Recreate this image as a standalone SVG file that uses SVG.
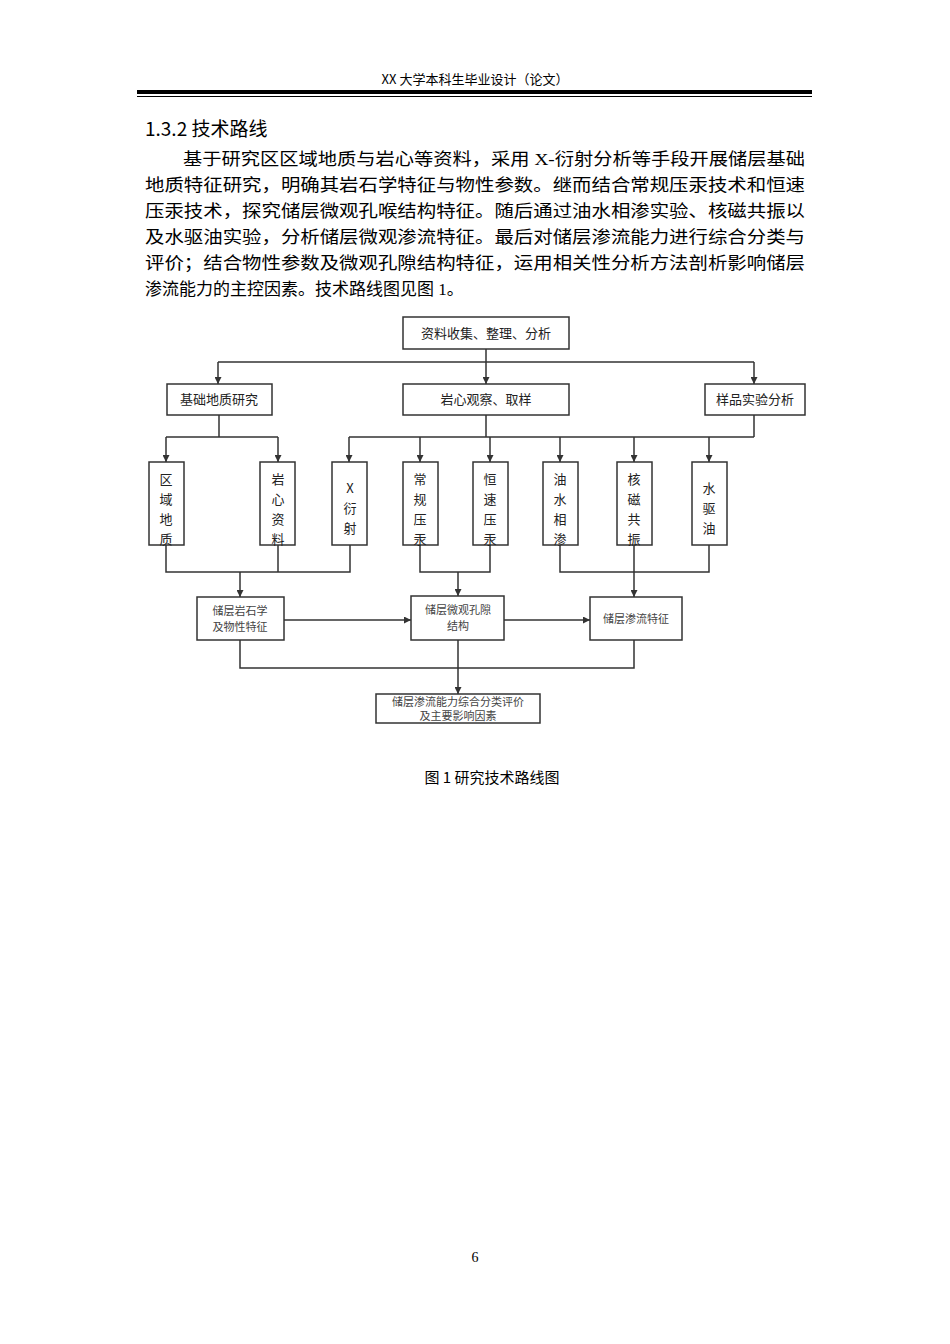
<svg xmlns="http://www.w3.org/2000/svg" width="950" height="1344" viewBox="0 0 950 1344">
<defs>
<marker id="ah" viewBox="0 0 10 10" refX="10" refY="5" markerWidth="7" markerHeight="7" markerUnits="userSpaceOnUse" orient="auto"><path d="M0,0 L10,5 L0,10 z" fill="#333"/></marker>
<style>
.b{fill:#fff;stroke:#333;stroke-width:1.5}
.t{font-family:"Noto Sans CJK SC",sans-serif;font-size:13px;fill:#222;text-anchor:middle}
.s{font-family:"Noto Sans CJK SC",sans-serif;font-size:11px;fill:#444;text-anchor:middle}
.c path{fill:none;stroke:#333;stroke-width:1.5}
.a{marker-end:url(#ah)}
.p{font-family:"Liberation Serif","Noto Sans CJK SC",serif;font-size:17px;fill:#000}
</style>
</defs>
<rect width="950" height="1344" fill="#fff"/>
<text x="475" y="84" text-anchor="middle" font-family="'Noto Sans CJK SC',sans-serif" font-size="13" fill="#000">XX 大学本科生毕业设计（论文）</text>
<rect x="137" y="90" width="675" height="4" fill="#000"/>
<rect x="137" y="96" width="675" height="1" fill="#000"/>
<text x="145" y="136" font-family="'Noto Sans CJK SC',sans-serif" font-size="19" fill="#000">1.3.2 技术路线</text>
<text class="p" x="183" y="165" textLength="622" lengthAdjust="spacingAndGlyphs">基于研究区区域地质与岩心等资料，采用 X-衍射分析等手段开展储层基础</text>
<text class="p" x="145" y="191" textLength="660" lengthAdjust="spacingAndGlyphs">地质特征研究，明确其岩石学特征与物性参数。继而结合常规压汞技术和恒速</text>
<text class="p" x="145" y="217" textLength="660" lengthAdjust="spacingAndGlyphs">压汞技术，探究储层微观孔喉结构特征。随后通过油水相渗实验、核磁共振以</text>
<text class="p" x="145" y="243" textLength="660" lengthAdjust="spacingAndGlyphs">及水驱油实验，分析储层微观渗流特征。最后对储层渗流能力进行综合分类与</text>
<text class="p" x="145" y="269" textLength="660" lengthAdjust="spacingAndGlyphs">评价；结合物性参数及微观孔隙结构特征，运用相关性分析方法剖析影响储层</text>
<text class="p" x="145" y="295">渗流能力的主控因素。技术路线图见图 1。</text>

<g class="c" id="connectors">
<path d="M486,349 V384" class="a"/>
<path d="M218,362 H754"/>
<path d="M218,362 V384" class="a"/>
<path d="M754,362 V384" class="a"/>
<path d="M219,415 V437 M166,437 H278"/>
<path d="M166,437 V462" class="a"/>
<path d="M278,437 V462" class="a"/>
<path d="M486,415 V437 M754,415 V437 M349,437 H754"/>
<path d="M349,437 V462" class="a"/>
<path d="M420,437 V462" class="a"/>
<path d="M490,437 V462" class="a"/>
<path d="M560,437 V462" class="a"/>
<path d="M634,437 V462" class="a"/>
<path d="M709,437 V462" class="a"/>
<path d="M166,545 V572 H350 V545 M278,545 V572"/>
<path d="M240,572 V597" class="a"/>
<path d="M420,545 V572 H490 V545"/>
<path d="M458,572 V596" class="a"/>
<path d="M560,545 V572 H709 V545"/>
<path d="M634,545 V597" class="a"/>
<path d="M284,620 H411" class="a"/>
<path d="M504,620 H590" class="a"/>
<path d="M240,640 V668 H634 V640 M458,640 V694" class="a"/>
</g>

<g id="n1"><rect class="b" x="403" y="317" width="166" height="32"/><text class="t" x="486" y="338">资料收集、整理、分析</text></g>
<g id="n2"><rect class="b" x="167" y="384" width="105" height="31"/><text class="t" x="219" y="404">基础地质研究</text></g>
<g id="n3"><rect class="b" x="403" y="384" width="166" height="31"/><text class="t" x="486" y="404">岩心观察、取样</text></g>
<g id="n4"><rect class="b" x="705" y="384" width="100" height="31"/><text class="t" x="755" y="404">样品实验分析</text></g>

<g id="v1"><rect class="b" x="149" y="462" width="35" height="83"/><text class="t" x="166" y="484">区<tspan x="166" dy="20">域</tspan><tspan x="166" dy="20">地</tspan><tspan x="166" dy="20">质</tspan></text></g>
<g id="v2"><rect class="b" x="260" y="462" width="35" height="83"/><text class="t" x="278" y="484">岩<tspan x="278" dy="20">心</tspan><tspan x="278" dy="20">资</tspan><tspan x="278" dy="20">料</tspan></text></g>
<g id="v3"><rect class="b" x="332" y="462" width="35" height="83"/><text class="t" x="350" y="493">X<tspan x="350" dy="20">衍</tspan><tspan x="350" dy="20">射</tspan></text></g>
<g id="v4"><rect class="b" x="403" y="462" width="35" height="83"/><text class="t" x="420" y="484">常<tspan x="420" dy="20">规</tspan><tspan x="420" dy="20">压</tspan><tspan x="420" dy="20">汞</tspan></text></g>
<g id="v5"><rect class="b" x="473" y="462" width="35" height="83"/><text class="t" x="490" y="484">恒<tspan x="490" dy="20">速</tspan><tspan x="490" dy="20">压</tspan><tspan x="490" dy="20">汞</tspan></text></g>
<g id="v6"><rect class="b" x="543" y="462" width="35" height="83"/><text class="t" x="560" y="484">油<tspan x="560" dy="20">水</tspan><tspan x="560" dy="20">相</tspan><tspan x="560" dy="20">渗</tspan></text></g>
<g id="v7"><rect class="b" x="617" y="462" width="35" height="83"/><text class="t" x="634" y="484">核<tspan x="634" dy="20">磁</tspan><tspan x="634" dy="20">共</tspan><tspan x="634" dy="20">振</tspan></text></g>
<g id="v8"><rect class="b" x="692" y="462" width="35" height="83"/><text class="t" x="709" y="493">水<tspan x="709" dy="20">驱</tspan><tspan x="709" dy="20">油</tspan></text></g>

<g id="r1"><rect class="b" x="197" y="597" width="87" height="43"/><text class="s" x="240" y="615">储层岩石学<tspan x="240" dy="16">及物性特征</tspan></text></g>
<g id="r2"><rect class="b" x="411" y="596" width="93" height="44"/><text class="s" x="458" y="614">储层微观孔隙<tspan x="458" dy="16">结构</tspan></text></g>
<g id="r3"><rect class="b" x="590" y="597" width="92" height="43"/><text class="s" x="636" y="623">储层渗流特征</text></g>
<g id="r4"><rect class="b" x="376" y="694" width="164" height="29"/><text class="s" x="458" y="706">储层渗流能力综合分类评价<tspan x="458" dy="14">及主要影响因素</tspan></text></g>

<text x="492" y="783" text-anchor="middle" font-family="'Noto Sans CJK SC',sans-serif" font-size="15" fill="#000">图 1 研究技术路线图</text>
<text x="475" y="1262" text-anchor="middle" font-family="'Liberation Serif',serif" font-size="14" fill="#000">6</text>
</svg>
